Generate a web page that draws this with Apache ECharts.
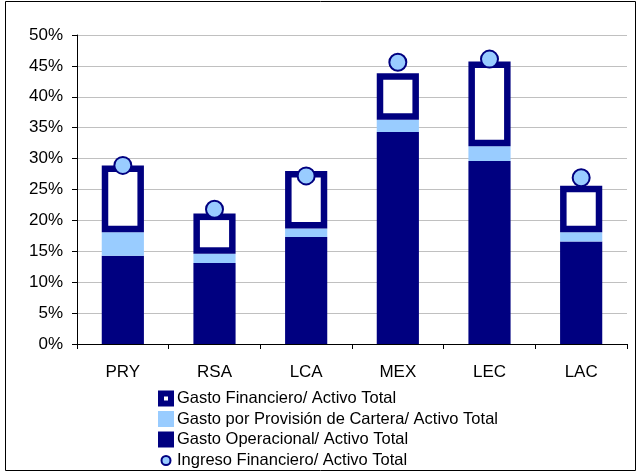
<!DOCTYPE html>
<html>
<head>
<meta charset="utf-8">
<script src="https://cdn.jsdelivr.net/npm/echarts@6/dist/echarts.min.js"></script>
<style>
  html, body { margin: 0; padding: 0; background: #ffffff; }
  #chart { width: 641px; height: 473px; }
</style>
</head>
<body>
<div id="chart"></div>
<script>
// Cost structure by country, as % of total assets
const categories = ['PRY', 'RSA', 'LCA', 'MEX', 'LEC', 'LAC'];
const gastoOperacional = [14.3, 13.1, 17.3, 34.3, 29.6, 16.6];
const gastoProvision = [3.8, 1.5, 1.4, 2.0, 2.4, 1.5];
const gastoFinanciero = [10.8, 6.5, 9.3, 7.5, 13.7, 7.5];
const ingresoFinanciero = [28.9, 21.8, 27.2, 45.6, 46.1, 26.9];
const yTicks = { min: 0, max: 50, interval: 5 };

const NAVY = '#000080';
const LIGHT = '#99ccff';
const FONT = 'Liberation Sans, Arial, sans-serif';

const names = {
  fin: 'Gasto Financiero/ Activo Total',
  prov: 'Gasto por Provisión de Cartera/ Activo Total',
  op: 'Gasto Operacional/ Activo Total',
  inc: 'Ingreso Financiero/ Activo Total'
};

// Financial cost segment sits on top of operating + provision costs
const finData = categories.map((c, i) => {
  const base = gastoOperacional[i] + gastoProvision[i];
  return [i, base, base + gastoFinanciero[i]];
});

const BAR_RATIO = 0.46;
const BORDER = 6.5;

function renderFin(params, api) {
  const idx = api.value(0);
  const lo = api.coord([idx, api.value(1)]);
  const hi = api.coord([idx, api.value(2)]);
  const w = api.size([1, 0])[0] * BAR_RATIO;
  const x = lo[0] - w / 2;
  const y = hi[1];
  const h = lo[1] - hi[1];
  return {
    type: 'group',
    children: [
      { type: 'rect', shape: { x: x, y: y, width: w, height: h }, style: { fill: NAVY } },
      { type: 'rect', shape: { x: x + BORDER, y: y + BORDER, width: w - 2 * BORDER, height: Math.max(0, h - 2 * BORDER) }, style: { fill: '#ffffff' } }
    ]
  };
}

// Legend icons
const finIcon = 'path://M0,0 L16,0 L16,16 L0,16 Z M6,6 L6,10 L10,10 L10,6 Z';
const smallCircleIcon = 'path://M0,0 M16,16 M12.5,8 A4.5,4.5 0 1,1 3.5,8 A4.5,4.5 0 1,1 12.5,8 Z';

const chart = echarts.init(document.getElementById('chart'), null, { renderer: 'canvas' });
chart.setOption({
  animation: false,
  backgroundColor: '#ffffff',
  textStyle: { fontFamily: FONT },
  graphic: [{
    type: 'rect',
    shape: { x: 5.5, y: 1.5, width: 630, height: 469 },
    style: { fill: 'none', stroke: '#000000', lineWidth: 1 },
    silent: true
  }],
  grid: { left: 77, right: 14, top: 35, bottom: 129 },
  legend: {
    orient: 'vertical',
    left: 157,
    top: 390,
    height: 90,
    padding: 0,
    itemWidth: 16,
    itemHeight: 16,
    itemGap: 3.5,
    selectedMode: false,
    textStyle: { fontSize: 16.5, color: '#000000', fontFamily: FONT, padding: [0, 0, 0, -2] },
    data: [
      { name: names.fin, icon: finIcon, itemStyle: { color: NAVY } },
      { name: names.prov, icon: 'rect', itemStyle: { color: LIGHT } },
      { name: names.op, icon: 'rect', itemStyle: { color: NAVY } },
      { name: names.inc, icon: smallCircleIcon, itemStyle: { color: LIGHT, borderColor: NAVY, borderWidth: 2 } }
    ]
  },
  xAxis: {
    type: 'category',
    data: categories,
    axisLine: { lineStyle: { color: '#000000', width: 1 } },
    axisTick: { show: true, length: 5, lineStyle: { color: '#000000' } },
    axisLabel: { color: '#000000', fontSize: 17, margin: 20, fontFamily: FONT }
  },
  yAxis: {
    type: 'value',
    min: yTicks.min,
    max: yTicks.max,
    interval: yTicks.interval,
    axisLine: { show: true, lineStyle: { color: '#000000', width: 1 } },
    axisTick: { show: true, length: 5, lineStyle: { color: '#000000' } },
    axisLabel: { color: '#000000', fontSize: 17, margin: 14, formatter: '{value}%', fontFamily: FONT },
    splitLine: { lineStyle: { color: '#c0c0c0', width: 1 } }
  },
  series: [
    {
      name: names.op,
      type: 'bar',
      stack: 'cost',
      barWidth: (BAR_RATIO * 100) + '%',
      itemStyle: { color: NAVY },
      data: gastoOperacional
    },
    {
      name: names.prov,
      type: 'bar',
      stack: 'cost',
      itemStyle: { color: LIGHT },
      data: gastoProvision
    },
    {
      name: names.fin,
      type: 'custom',
      renderItem: renderFin,
      itemStyle: { color: NAVY },
      encode: { x: 0, y: [1, 2] },
      data: finData,
      z: 3
    },
    {
      name: names.inc,
      type: 'scatter',
      symbol: 'circle',
      symbolSize: 17,
      itemStyle: { color: LIGHT, borderColor: NAVY, borderWidth: 2, opacity: 1 },
      data: ingresoFinanciero,
      z: 5
    }
  ]
});
</script>
</body>
</html>
